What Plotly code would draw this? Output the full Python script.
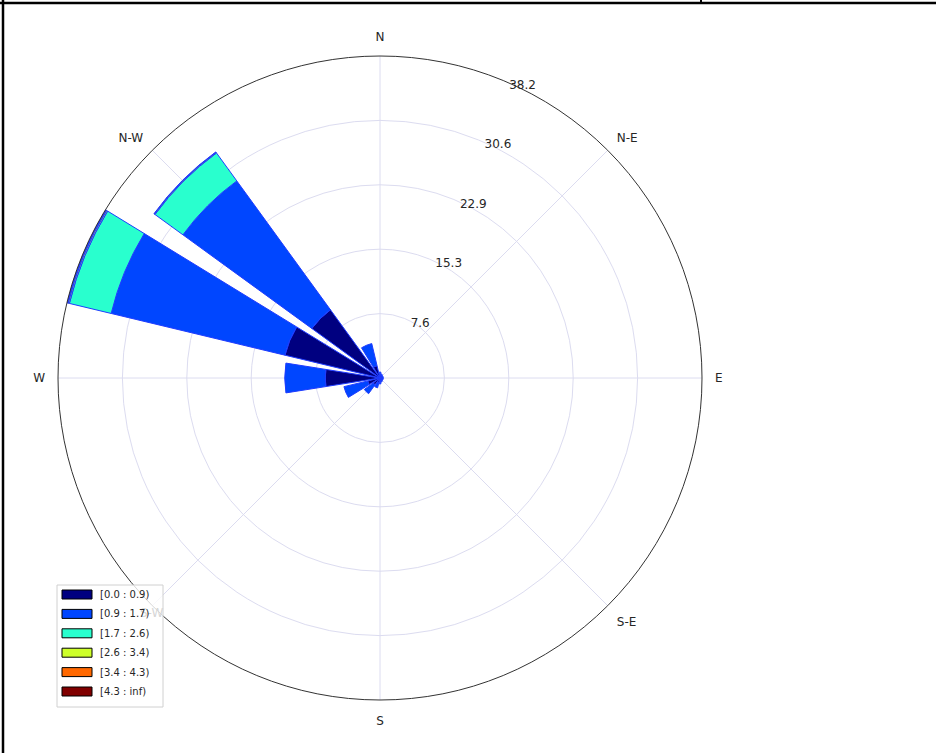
import plotly.graph_objects as go

# ---------------- data ----------------
directions = [0, 22.5, 45, 67.5, 90, 112.5, 135, 157.5,
              180, 202.5, 225, 247.5, 270, 292.5, 315, 337.5]
bin_labels = ["[0.0 : 0.9)", "[0.9 : 1.7)", "[1.7 : 2.6)",
              "[2.6 : 3.4)", "[3.4 : 4.3)", "[4.3 : inf)"]
bin_colors = ["#000080", "#0046ff", "#29ffce", "#ceff29", "#ff6800", "#800000"]

#           N    NNE  NE   ENE  E    ESE  SE   SSE  S    SSW  SW   WSW  W    WNW   NW    NNW
bin0 = [0.4, 0.3, 0.3, 0.3, 0.3, 0.3, 0.3, 0.3, 0.4, 0.6, 1.0, 1.5, 6.5, 11.6, 10.0, 1.5]
bin1 = [0.3, 0.2, 0.1, 0.1, 0.1, 0.1, 0.1, 0.2, 0.3, 0.6, 1.3, 2.9, 4.8, 21.2, 18.9, 2.7]
bin2 = [0, 0, 0, 0, 0, 0, 0, 0, 0, 0, 0, 0, 0, 5.1, 4.1, 0]
bin3 = [0, 0, 0, 0, 0, 0, 0, 0, 0, 0, 0, 0, 0, 0.15, 0.1, 0]
bin4 = [0, 0, 0, 0, 0, 0, 0, 0, 0, 0, 0, 0, 0, 0.1, 0.05, 0]
bin5 = [0, 0, 0, 0, 0, 0, 0, 0, 0, 0, 0, 0, 0, 0.05, 0, 0]
bins = [bin0, bin1, bin2, bin3, bin4, bin5]

compass_vals = [0, 45, 90, 135, 180, 225, 270, 315]
compass_text = ["N", "N-E", "E", "S-E", "S", "S-W", "W", "N-W"]
radial_ticks = [7.64, 15.28, 22.92, 30.56, 38.2]
radial_text = ["7.6", "15.3", "22.9", "30.6", "38.2"]
rmax = 38.2
sector_width = 18  # 0.8 of 22.5 deg

# ---------------- figure ----------------
W, H = 936, 753
fig = go.Figure()
for vals, lab, col in zip(bins, bin_labels, bin_colors):
    fig.add_trace(go.Barpolar(
        r=vals, theta=directions, width=[sector_width] * len(directions),
        name=lab, marker=dict(color=col, line=dict(color="#1f3cff", width=1)),
        showlegend=False,
    ))

cx, cy, R = 380, 378, 322
fig.update_layout(
    width=W, height=H,
    margin=dict(l=0, r=0, t=0, b=0),
    paper_bgcolor="white",
    font=dict(family="DejaVu Sans", size=12, color="#262626"),
    polar=dict(
        domain=dict(x=[(cx - R) / W, (cx + R) / W],
                    y=[(H - cy - R) / H, (H - cy + R) / H]),
        bgcolor="white",
        barmode="stack",
        bargap=0,
        angularaxis=dict(
            rotation=90, direction="clockwise",
            tickmode="array", tickvals=compass_vals,
            ticktext=[t if t != "S-W" else "" for t in compass_text],
            showline=True, linecolor="#333333", linewidth=1,
            showgrid=True, gridcolor="#dcdcf0", gridwidth=1,
            ticks="outside", ticklen=10, tickcolor="rgba(0,0,0,0)",
            tickfont=dict(size=12, color="#262626"),
        ),
        radialaxis=dict(
            range=[0, rmax], angle=67.5, side="clockwise",
            tickmode="array", tickvals=radial_ticks, ticktext=radial_text,
            showline=False, ticks="", showgrid=True,
            gridcolor="#dcdcf0", gridwidth=1,
            tickfont=dict(size=12, color="#262626"),
            tickangle=67.5,
        ),
    ),
)

shapes = []
annotations = []

def px(x):
    return x / W

def py(y):
    return 1 - y / H

# page frame lines
shapes.append(dict(type="line", xref="paper", yref="paper",
                   x0=0, x1=1, y0=py(3), y1=py(3),
                   line=dict(color="black", width=2.5)))
shapes.append(dict(type="line", xref="paper", yref="paper",
                   x0=px(3), x1=px(3), y0=0, y1=1,
                   line=dict(color="black", width=2.5)))
shapes.append(dict(type="line", xref="paper", yref="paper",
                   x0=px(701), x1=px(701), y0=py(0), y1=py(3),
                   line=dict(color="black", width=2)))

# faint S-W label (behind the translucent legend in the original)
annotations.append(dict(x=px(138), y=py(622), xref="paper", yref="paper",
                        text="S-W", showarrow=False,
                        font=dict(size=12, color="#d6d6d6")))

# legend box
shapes.append(dict(type="rect", xref="paper", yref="paper",
                   x0=px(57), x1=px(163), y0=py(707), y1=py(585),
                   fillcolor="rgba(255,255,255,0.8)",
                   line=dict(color="#d0d0d0", width=1), layer="above"))
row0, step = 594.5, 19.4
for i, (lab, col) in enumerate(zip(bin_labels, bin_colors)):
    yc = row0 + i * step
    shapes.append(dict(type="rect", xref="paper", yref="paper",
                       x0=px(62), x1=px(92), y0=py(yc + 4.5), y1=py(yc - 4.5),
                       fillcolor=col, line=dict(color="black", width=1),
                       layer="above"))
    annotations.append(dict(x=px(98), y=py(yc), xref="paper", yref="paper",
                            text=lab, showarrow=False, xanchor="left",
                            yanchor="middle",
                            font=dict(size=10, color="#262626")))

fig.update_layout(shapes=shapes, annotations=annotations)
fig.write_html("out.html",
               config={"displayModeBar": False},
               post_script="document.body.style.margin='0px';"
                           "document.body.style.overflow='hidden';")
